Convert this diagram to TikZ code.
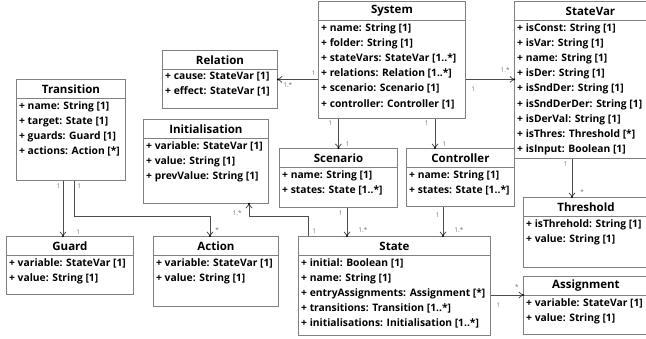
\documentclass[tikz,border=0pt]{standalone}
\usepackage{fontspec}
\setmainfont{Open Sans}
\usetikzlibrary{positioning}
\usetikzlibrary{arrows.meta}
\usetikzlibrary{calc}

% class box: name, position, width, height, title, attributes
\newcommand{\umlclass}[6]{%
	\node[classbox, minimum width=#3, minimum height=#4] (#1) at #2 {};
	\node[classtitle] (#1-title) at ([yshift=-10pt]#1.north) {#5};
	\draw[classline] ([yshift=-19pt]#1.north west) -- ([yshift=-19pt]#1.north east);
	\node[classattr] (#1-attrs) at ([xshift=3pt,yshift=-22pt]#1.north west) {#6};
}

\begin{document}
\begin{tikzpicture}[x=1pt, y=1pt]
	\tikzset{
		classbox/.style={rectangle, draw=black!50, line width=0.9pt, anchor=north west, inner sep=0pt},
		classtitle/.style={font=\bfseries\fontsize{11.5}{13}\selectfont, inner sep=0pt},
		classattr/.style={anchor=north west, align=left, inner sep=0pt, font=\bfseries\fontsize{10.3}{15.2}\selectfont},
		classline/.style={draw=black!50, line width=0.9pt},
		assoc/.style={draw=black!70, line width=0.8pt, -{Straight Barb[length=3.5pt,width=6pt]}},
		tipdot/.style={circle, fill=black, inner sep=0pt, minimum size=2.4pt},
		mult/.style={font=\fontsize{6.5}{7}\selectfont, text=black!55, inner sep=0pt},
	}
	\useasboundingbox (0,0) rectangle (646,-339);

	\umlclass{relation}{(162,-50)}{115pt}{58pt}{Relation}{+ cause: StateVar [1]\\+ effect: StateVar [1]}
	\umlclass{system}{(318,-1)}{147pt}{117pt}{System}{+ name: String [1]\\+ folder: String [1]\\+ stateVars: StateVar [1..*]\\+ relations: Relation [1..*]\\+ scenario: Scenario [1]\\+ controller: Controller [1]}
	\umlclass{statevar}{(514,-1)}{152pt}{157pt}{StateVar}{+ isConst: String [1]\\+ isVar: String [1]\\+ name: String [1]\\+ isDer: String [1]\\+ isSndDer: String [1]\\+ isSndDerDer: String [1]\\+ isDerVal: String [1]\\+ isThres: Threshold [*]\\+ isInput: Boolean [1]}
	\umlclass{transition}{(16,-79)}{109pt}{101pt}{Transition}{+ name: String [1]\\+ target: State [1]\\+ guards: Guard [1]\\+ actions: Action [*]}
	\umlclass{initialisation}{(143,-119)}{125pt}{84pt}{Initialisation}{+ variable: StateVar [1]\\+ value: String [1]\\+ prevValue: String [1]}
	\umlclass{scenario}{(279,-148)}{118pt}{59pt}{Scenario}{+ name: String [1]\\+ states: State [1..*]}
	\umlclass{controller}{(406,-148)}{108pt}{58pt}{Controller}{+ name: String [1]\\+ states: State [1..*]}
	\umlclass{threshold}{(523,-197)}{125pt}{70pt}{Threshold}{+ isThrehold: String [1]\\+ value: String [1]}
	\umlclass{guard}{(6,-236)}{127pt}{58pt}{Guard}{+ variable: StateVar [1]\\+ value: String [1]}
	\umlclass{action}{(153,-236)}{125pt}{70pt}{Action}{+ variable: StateVar [1]\\+ value: String [1]}
	\umlclass{state}{(298,-236)}{192pt}{99pt}{State}{+ initial: Boolean [1]\\+ name: String [1]\\+ entryAssignments: Assignment [*]\\+ transitions: Transition [1..*]\\+ initialisations: Initialisation [1..*]}
	\umlclass{assignment}{(523,-276)}{125pt}{58pt}{Assignment}{+ variable: StateVar [1]\\+ value: String [1]}

	\coordinate (sysctrl) at ([xshift=29pt]controller.north west);
	\coordinate (svthres) at ([xshift=49pt]threshold.north west);
	\coordinate (trguard) at ([xshift=57pt]guard.north west);
	\coordinate (traction) at ([xshift=58pt]transition.south west);
	\coordinate (actionin) at ([xshift=57pt]action.north west);
	\coordinate (stinit) at ([xshift=10pt]state.north west);
	\coordinate (initin) at ([xshift=106pt]initialisation.south west);
	\coordinate (scstate) at ([xshift=68pt]scenario.south west);
	\coordinate (ctstate) at ([xshift=37pt]controller.south west);
	\coordinate (stassign) at ([yshift=-59pt]state.north east);

	\draw[assoc] (relation.east -| system.west) node[mult, above left=4pt and 2pt] {1}
		-- (relation.east) node[tipdot] {} node[mult, below right=3pt and 5pt] {1.*};
	\draw[assoc] (relation.east -| system.east) node[mult, below right=7pt and 5pt] {1}
		-- (relation.east -| statevar.west) node[tipdot] {} node[mult, above left=6pt and 4pt] {1.*};
	\draw[assoc] (scenario.north |- system.south) node[mult, below left=2pt and 6pt] {1}
		-- (scenario.north) node[tipdot] {} node[mult, above right=1pt and 7pt] {1};
	\draw[assoc] (sysctrl |- system.south) node[mult, below left=2pt and 6pt] {1}
		-- (sysctrl) node[tipdot] {} node[mult, above right=1pt and 7pt] {1};
	\draw[assoc] (svthres |- statevar.south) node[mult, below left=3pt and 4pt] {1}
		-- (svthres) node[tipdot] {} node[mult, above right=2pt and 8pt] {*};

	\draw[assoc] (trguard |- transition.south) node[mult, below left=3pt and 2pt] {1}
		-- (trguard) node[tipdot] {} node[mult, above right=1pt and 13pt] {1};
	\draw[assoc] (traction) node[mult, below right=3pt and 3pt] {1}
		-- ++(0,-36) -| (actionin) node[tipdot] {} node[mult, above right=3pt and 5pt] {*};
	\draw[assoc] (stinit) node[mult, above right=2pt and 4pt] {1}
		-- ++(0,20) -| (initin) node[tipdot] {} node[mult, below left=6pt and 7pt] {1.*};

	\draw[assoc] (scstate) node[mult, below left=3pt and 4pt] {1}
		-- (scstate |- state.north) node[tipdot] {} node[mult, above right=3pt and 11pt] {1.*};
	\draw[assoc] (ctstate) node[mult, below left=6pt and 3pt] {1}
		-- (ctstate |- state.north) node[tipdot] {} node[mult, above right=3pt and 11pt] {1.*};
	\draw[assoc] (stassign) node[mult, below right=7pt and 5pt] {1}
		-- (stassign -| assignment.west) node[tipdot] {} node[mult, above left=5pt and 4pt] {*};
\end{tikzpicture}
\end{document}
